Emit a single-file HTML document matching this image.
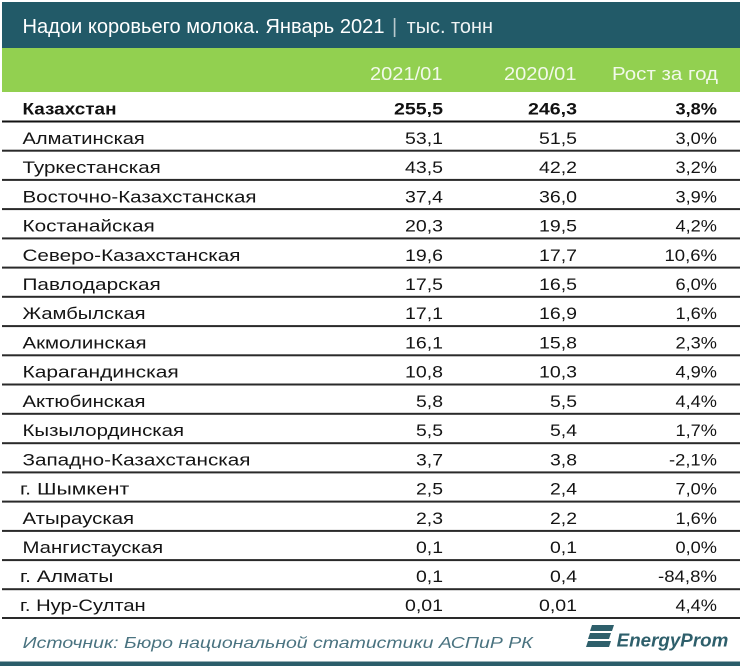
<!DOCTYPE html>
<html>
<head>
<meta charset="utf-8">
<style>
  html, body { margin: 0; padding: 0; background: #ffffff; }
  body { width: 740px; height: 666px; overflow: hidden; }
  svg { display: block; }
  .t { font-family: "Liberation Sans", "Noto Sans CJK SC", sans-serif; }
</style>
</head>
<body>
<svg width="740" height="666" viewBox="0 0 740 666" xmlns="http://www.w3.org/2000/svg">
  <rect x="0" y="0" width="740" height="666" fill="#ffffff"/>
  <!-- header bands -->
  <rect x="2" y="2" width="738" height="46" fill="#225a68"/>
  <rect x="2" y="48" width="738" height="44" fill="#92d050"/>

  <!-- title -->
  <text class="t" x="22.5" y="33" font-size="20" fill="#ffffff" textLength="362" lengthAdjust="spacingAndGlyphs">Надои коровьего молока. Январь 2021</text>
  <text class="t" x="392" y="33" font-size="20" fill="#b9c9cd">|</text>
  <text class="t" x="406.6" y="33" font-size="20" fill="#eef3f4" textLength="86.4" lengthAdjust="spacingAndGlyphs">тыс. тонн</text>

  <!-- column headers -->
  <g class="t" font-size="18" fill="#f2f9ea">
    <text x="370" y="80" textLength="72.5" lengthAdjust="spacingAndGlyphs">2021/01</text>
    <text x="504" y="80" textLength="72.5" lengthAdjust="spacingAndGlyphs">2020/01</text>
    <text x="612" y="80" textLength="106" lengthAdjust="spacingAndGlyphs">Рост за год</text>
  </g>

  <!-- row lines -->
  <rect x="2" y="120.5" width="738" height="2" fill="#111111"/>
  <g fill="#2a2a2a">
    <rect x="2" y="149.7" width="738" height="2"/>
    <rect x="2" y="178.9" width="738" height="2"/>
    <rect x="2" y="208.1" width="738" height="2"/>
    <rect x="2" y="237.4" width="738" height="2"/>
    <rect x="2" y="266.6" width="738" height="2"/>
    <rect x="2" y="295.8" width="738" height="2"/>
    <rect x="2" y="325.1" width="738" height="2"/>
    <rect x="2" y="354.3" width="738" height="2"/>
    <rect x="2" y="383.5" width="738" height="2"/>
    <rect x="2" y="412.8" width="738" height="2"/>
    <rect x="2" y="442.2" width="738" height="2"/>
    <rect x="2" y="471.4" width="738" height="2"/>
    <rect x="2" y="500.6" width="738" height="2"/>
    <rect x="2" y="529.9" width="738" height="2"/>
    <rect x="2" y="559.1" width="738" height="2"/>
    <rect x="2" y="588.2" width="738" height="2"/>
    <rect x="2" y="617.0" width="738" height="2"/>
  </g>

  <!-- Kazakhstan row (bold) -->
  <g class="t" font-size="17" font-weight="bold" fill="#111111">
    <text x="22.5" y="114.5" textLength="94" lengthAdjust="spacingAndGlyphs">Казахстан</text>
    <text x="394" y="114.5" textLength="49" lengthAdjust="spacingAndGlyphs">255,5</text>
    <text x="528" y="114.5" textLength="49" lengthAdjust="spacingAndGlyphs">246,3</text>
    <text x="675.5" y="114.5" textLength="41.5" lengthAdjust="spacingAndGlyphs">3,8%</text>
  </g>

  <!-- body rows -->
  <g class="t" font-size="17" fill="#141414">
    <!-- row 1 -->
    <text x="22.5" y="143.9" textLength="122.3" lengthAdjust="spacingAndGlyphs">Алматинская</text>
    <text x="405" y="143.9" textLength="38" lengthAdjust="spacingAndGlyphs">53,1</text>
    <text x="539" y="143.9" textLength="38" lengthAdjust="spacingAndGlyphs">51,5</text>
    <text x="675.5" y="143.9" textLength="41.5" lengthAdjust="spacingAndGlyphs">3,0%</text>
    <!-- row 2 -->
    <text x="22.5" y="173.1" textLength="138.3" lengthAdjust="spacingAndGlyphs">Туркестанская</text>
    <text x="405" y="173.1" textLength="38" lengthAdjust="spacingAndGlyphs">43,5</text>
    <text x="539" y="173.1" textLength="38" lengthAdjust="spacingAndGlyphs">42,2</text>
    <text x="675.5" y="173.1" textLength="41.5" lengthAdjust="spacingAndGlyphs">3,2%</text>
    <!-- row 3 -->
    <text x="22.5" y="202.3" textLength="234" lengthAdjust="spacingAndGlyphs">Восточно-Казахстанская</text>
    <text x="405" y="202.3" textLength="38" lengthAdjust="spacingAndGlyphs">37,4</text>
    <text x="539" y="202.3" textLength="38" lengthAdjust="spacingAndGlyphs">36,0</text>
    <text x="675.5" y="202.3" textLength="41.5" lengthAdjust="spacingAndGlyphs">3,9%</text>
    <!-- row 4 -->
    <text x="22.5" y="231.6" textLength="132.3" lengthAdjust="spacingAndGlyphs">Костанайская</text>
    <text x="405" y="231.6" textLength="38" lengthAdjust="spacingAndGlyphs">20,3</text>
    <text x="539" y="231.6" textLength="38" lengthAdjust="spacingAndGlyphs">19,5</text>
    <text x="675.5" y="231.6" textLength="41.5" lengthAdjust="spacingAndGlyphs">4,2%</text>
    <!-- row 5 -->
    <text x="22.5" y="260.8" textLength="218" lengthAdjust="spacingAndGlyphs">Северо-Казахстанская</text>
    <text x="405" y="260.8" textLength="38" lengthAdjust="spacingAndGlyphs">19,6</text>
    <text x="539" y="260.8" textLength="38" lengthAdjust="spacingAndGlyphs">17,7</text>
    <text x="664.5" y="260.8" textLength="52.5" lengthAdjust="spacingAndGlyphs">10,6%</text>
    <!-- row 6 -->
    <text x="22.5" y="290.0" textLength="138.3" lengthAdjust="spacingAndGlyphs">Павлодарская</text>
    <text x="405" y="290.0" textLength="38" lengthAdjust="spacingAndGlyphs">17,5</text>
    <text x="539" y="290.0" textLength="38" lengthAdjust="spacingAndGlyphs">16,5</text>
    <text x="675.5" y="290.0" textLength="41.5" lengthAdjust="spacingAndGlyphs">6,0%</text>
    <!-- row 7 -->
    <text x="22.5" y="319.2" textLength="123" lengthAdjust="spacingAndGlyphs">Жамбылская</text>
    <text x="405" y="319.2" textLength="38" lengthAdjust="spacingAndGlyphs">17,1</text>
    <text x="539" y="319.2" textLength="38" lengthAdjust="spacingAndGlyphs">16,9</text>
    <text x="675.5" y="319.2" textLength="41.5" lengthAdjust="spacingAndGlyphs">1,6%</text>
    <!-- row 8 -->
    <text x="22.5" y="348.5" textLength="124" lengthAdjust="spacingAndGlyphs">Акмолинская</text>
    <text x="405" y="348.5" textLength="38" lengthAdjust="spacingAndGlyphs">16,1</text>
    <text x="539" y="348.5" textLength="38" lengthAdjust="spacingAndGlyphs">15,8</text>
    <text x="675.5" y="348.5" textLength="41.5" lengthAdjust="spacingAndGlyphs">2,3%</text>
    <!-- row 9 -->
    <text x="22.5" y="377.7" textLength="156.3" lengthAdjust="spacingAndGlyphs">Карагандинская</text>
    <text x="405" y="377.7" textLength="38" lengthAdjust="spacingAndGlyphs">10,8</text>
    <text x="539" y="377.7" textLength="38" lengthAdjust="spacingAndGlyphs">10,3</text>
    <text x="675.5" y="377.7" textLength="41.5" lengthAdjust="spacingAndGlyphs">4,9%</text>
    <!-- row 10 -->
    <text x="22.5" y="406.9" textLength="123" lengthAdjust="spacingAndGlyphs">Актюбинская</text>
    <text x="416" y="406.9" textLength="27" lengthAdjust="spacingAndGlyphs">5,8</text>
    <text x="550" y="406.9" textLength="27" lengthAdjust="spacingAndGlyphs">5,5</text>
    <text x="675.5" y="406.9" textLength="41.5" lengthAdjust="spacingAndGlyphs">4,4%</text>
    <!-- row 11 -->
    <text x="22.5" y="436.2" textLength="161.6" lengthAdjust="spacingAndGlyphs">Кызылординская</text>
    <text x="416" y="436.2" textLength="27" lengthAdjust="spacingAndGlyphs">5,5</text>
    <text x="550" y="436.2" textLength="27" lengthAdjust="spacingAndGlyphs">5,4</text>
    <text x="675.5" y="436.2" textLength="41.5" lengthAdjust="spacingAndGlyphs">1,7%</text>
    <!-- row 12 -->
    <text x="22.5" y="465.4" textLength="228" lengthAdjust="spacingAndGlyphs">Западно-Казахстанская</text>
    <text x="416" y="465.4" textLength="27" lengthAdjust="spacingAndGlyphs">3,7</text>
    <text x="550" y="465.4" textLength="27" lengthAdjust="spacingAndGlyphs">3,8</text>
    <text x="669" y="465.4" textLength="48" lengthAdjust="spacingAndGlyphs">-2,1%</text>
    <!-- row 13 -->
    <text x="20" y="494.6" textLength="109.3" lengthAdjust="spacingAndGlyphs">г. Шымкент</text>
    <text x="416" y="494.6" textLength="27" lengthAdjust="spacingAndGlyphs">2,5</text>
    <text x="550" y="494.6" textLength="27" lengthAdjust="spacingAndGlyphs">2,4</text>
    <text x="675.5" y="494.6" textLength="41.5" lengthAdjust="spacingAndGlyphs">7,0%</text>
    <!-- row 14 -->
    <text x="22.5" y="523.9" textLength="111.6" lengthAdjust="spacingAndGlyphs">Атырауская</text>
    <text x="416" y="523.9" textLength="27" lengthAdjust="spacingAndGlyphs">2,3</text>
    <text x="550" y="523.9" textLength="27" lengthAdjust="spacingAndGlyphs">2,2</text>
    <text x="675.5" y="523.9" textLength="41.5" lengthAdjust="spacingAndGlyphs">1,6%</text>
    <!-- row 15 -->
    <text x="22.5" y="553.1" textLength="140.6" lengthAdjust="spacingAndGlyphs">Мангистауская</text>
    <text x="416" y="553.1" textLength="27" lengthAdjust="spacingAndGlyphs">0,1</text>
    <text x="550" y="553.1" textLength="27" lengthAdjust="spacingAndGlyphs">0,1</text>
    <text x="675.5" y="553.1" textLength="41.5" lengthAdjust="spacingAndGlyphs">0,0%</text>
    <!-- row 16 -->
    <text x="20" y="582.2" textLength="93.3" lengthAdjust="spacingAndGlyphs">г. Алматы</text>
    <text x="416" y="582.2" textLength="27" lengthAdjust="spacingAndGlyphs">0,1</text>
    <text x="550" y="582.2" textLength="27" lengthAdjust="spacingAndGlyphs">0,4</text>
    <text x="658" y="582.2" textLength="59" lengthAdjust="spacingAndGlyphs">-84,8%</text>
    <!-- row 17 -->
    <text x="20" y="611.0" textLength="125.7" lengthAdjust="spacingAndGlyphs">г. Нур-Султан</text>
    <text x="405" y="611.0" textLength="38" lengthAdjust="spacingAndGlyphs">0,01</text>
    <text x="539" y="611.0" textLength="38" lengthAdjust="spacingAndGlyphs">0,01</text>
    <text x="675.5" y="611.0" textLength="41.5" lengthAdjust="spacingAndGlyphs">4,4%</text>
  </g>

  <!-- source -->
  <text class="t" x="22.7" y="648" font-size="16" font-style="italic" fill="#4a7380" textLength="510" lengthAdjust="spacingAndGlyphs">Источник: Бюро национальной статистики АСПиР РК</text>

  <!-- logo -->
  <g fill="#2e5f6b">
    <polygon points="592,625 614,625 612,631 590,631"/>
    <polygon points="590,633 611,633 609,639 588,639"/>
    <polygon points="588,641 611,641 609,647 586,647"/>
  </g>
  <text class="t" x="616.7" y="646.5" font-size="18" font-weight="bold" font-style="italic" fill="#2e5f6b" textLength="111.6" lengthAdjust="spacingAndGlyphs">EnergyProm</text>

  <!-- bottom bar -->
  <rect x="0" y="661.5" width="740" height="4.5" fill="#2b5d6a"/>
</svg>
</body>
</html>
